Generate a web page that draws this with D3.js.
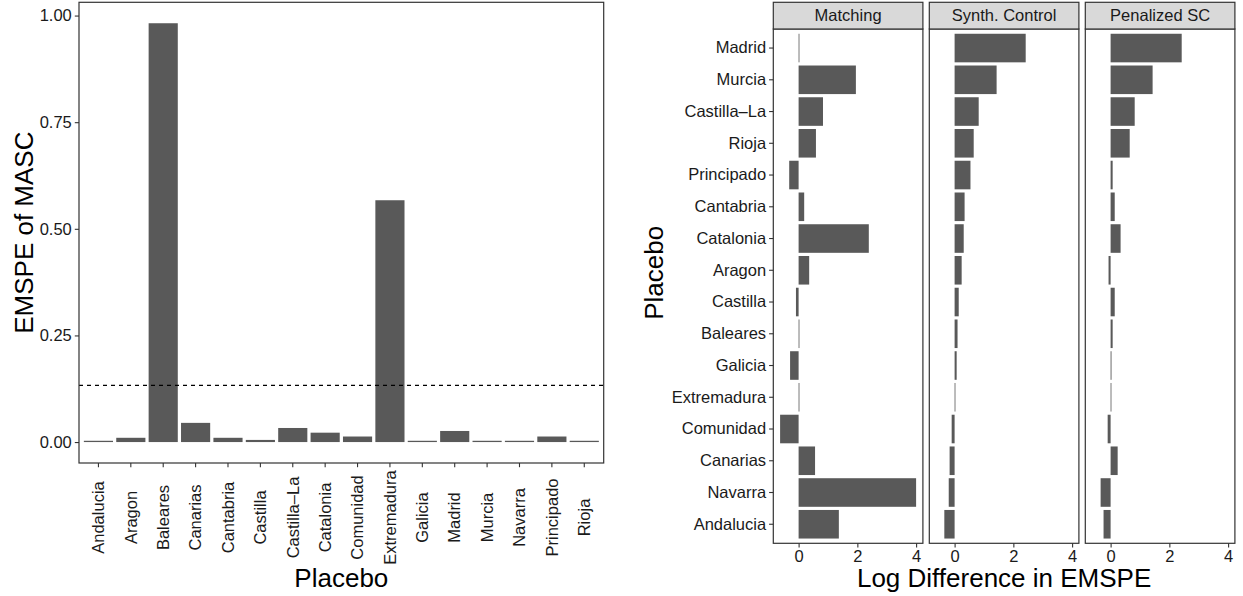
<!DOCTYPE html>
<html>
<head>
<meta charset="utf-8">
<script src="https://cdn.jsdelivr.net/npm/d3@7"></script>
<style>
  html, body { margin: 0; padding: 0; background: #fff; }
  svg { display: block; font-family: "Liberation Sans", Arial, Helvetica, sans-serif; }
</style>
</head>
<body>
<svg id="chart" width="1243" height="596"></svg>
<script>
// Left panel: EMSPE of MASC per placebo region (alphabetical)
const placebos = ["Andalucia", "Aragon", "Baleares", "Canarias", "Cantabria", "Castilla",
  "Castilla\u2013La", "Catalonia", "Comunidad", "Extremadura", "Galicia", "Madrid",
  "Murcia", "Navarra", "Principado", "Rioja"];
const emspeMasc = [0.003, 0.010, 0.982, 0.045, 0.010, 0.005, 0.033, 0.022, 0.013, 0.567,
  0.003, 0.026, 0.003, 0.003, 0.013, 0.003];
const thresholdLine = 0.133;
const leftTicks = [0, 0.25, 0.5, 0.75, 1.0];

// Right panels: log difference in EMSPE, rows listed top to bottom
const rowOrder = ["Madrid", "Murcia", "Castilla\u2013La", "Rioja", "Principado", "Cantabria",
  "Catalonia", "Aragon", "Castilla", "Baleares", "Galicia", "Extremadura", "Comunidad",
  "Canarias", "Navarra", "Andalucia"];
const methods = ["Matching", "Synth. Control", "Penalized SC"];
const matchingDiff = [0.00, 1.95, 0.83, 0.59, -0.32, 0.19, 2.39, 0.36, -0.09, 0.00, -0.29, 0.00,
  -0.63, 0.56, 4.00, 1.37];
const synthDiff = [2.42, 1.43, 0.82, 0.65, 0.54, 0.34, 0.31, 0.24, 0.14, 0.10, 0.07, 0.01,
  -0.10, -0.17, -0.20, -0.35];
const penalizedDiff = [2.42, 1.43, 0.82, 0.65, 0.07, 0.14, 0.34, -0.07, 0.14, 0.07, 0.03, 0.01,
  -0.10, 0.24, -0.34, -0.24];
const rightTicks = [0, 2, 4];

const svg = d3.select("#chart");
const barFill = "#595959";
const frameColor = "#333333";
const tickColor = "#333333";
const textColor = "#1a1a1a";
const tickFont = 16.5;
const titleFont = 26;

// 5% continuous expansion of the data range, zero baseline included
function expandDomain(values) {
  const lo = Math.min(0, d3.min(values));
  const hi = Math.max(0, d3.max(values));
  const pad = (hi - lo) * 0.05;
  return [lo - pad, hi + pad];
}

// ---------- Left chart ----------
const L = { x0: 79, x1: 603.7, y0: 2.3, y1: 463 };
// band centres sit 0.6 steps inside the panel edges
const xL = d3.scaleBand().domain(placebos).range([L.x0, L.x1]).paddingInner(0.1).paddingOuter(0.15);
const yL = d3.scaleLinear().domain(expandDomain(emspeMasc)).range([L.y1, L.y0]);

const left = svg.append("g");
left.selectAll("rect.bar").data(placebos).join("rect")
  .attr("class", "bar")
  .attr("x", d => xL(d))
  .attr("width", xL.bandwidth())
  .attr("y", (d, i) => yL(emspeMasc[i]))
  .attr("height", (d, i) => yL(0) - yL(emspeMasc[i]))
  .attr("fill", barFill);

left.append("line")
  .attr("x1", L.x0).attr("x2", L.x1)
  .attr("y1", yL(thresholdLine)).attr("y2", yL(thresholdLine))
  .attr("stroke", "#000").attr("stroke-width", 1.1)
  .attr("stroke-dasharray", "4,4");

left.append("rect")
  .attr("x", L.x0).attr("y", L.y0)
  .attr("width", L.x1 - L.x0).attr("height", L.y1 - L.y0)
  .attr("fill", "none").attr("stroke", frameColor).attr("stroke-width", 1.2);

// y axis
const yAxisL = left.append("g").attr("transform", `translate(${L.x0},0)`)
  .call(d3.axisLeft(yL).tickValues(leftTicks).tickFormat(d3.format(".2f")).tickSize(4.2).tickPadding(3));
yAxisL.select(".domain").remove();
yAxisL.selectAll("line").attr("stroke", tickColor).attr("stroke-width", 1.1);
yAxisL.selectAll("text").attr("fill", textColor).attr("font-size", tickFont)
  .attr("font-family", "Liberation Sans, Arial, sans-serif");

// x axis with vertical, centred labels
const xAxisL = left.append("g").attr("transform", `translate(0,${L.y1})`)
  .call(d3.axisBottom(xL).tickSize(4.2));
xAxisL.select(".domain").remove();
xAxisL.selectAll("line").attr("stroke", tickColor).attr("stroke-width", 1.1);
xAxisL.selectAll("text")
  .attr("fill", textColor).attr("font-size", tickFont)
  .attr("font-family", "Liberation Sans, Arial, sans-serif")
  .attr("text-anchor", "middle")
  .attr("y", 0).attr("dy", "0.35em")
  .attr("transform", "translate(0,54.5) rotate(-90)");

left.append("text")
  .attr("x", (L.x0 + L.x1) / 2).attr("y", 587)
  .attr("text-anchor", "middle").attr("font-size", titleFont).attr("fill", "#000")
  .text("Placebo");
left.append("text")
  .attr("transform", `translate(33,${(L.y0 + L.y1) / 2}) rotate(-90)`)
  .attr("text-anchor", "middle").attr("font-size", titleFont).attr("fill", "#000")
  .text("EMSPE of MASC");

// ---------- Right facets ----------
const R = { stripTop: 2.3, top: 29, bottom: 543.3 };
const panelX = [773.3, 929.3, 1085.3];
const panelW = 149.6;
const methodValues = [matchingDiff, synthDiff, penalizedDiff];
const xDomainR = expandDomain(methodValues.flat());
const yR = d3.scaleBand().domain(rowOrder).range([R.top, R.bottom]).paddingInner(0.1).paddingOuter(0.15);

methods.forEach((m, k) => {
  const px = panelX[k];
  const xR = d3.scaleLinear().domain(xDomainR).range([px, px + panelW]);
  const g = svg.append("g");
  const vals = methodValues[k];

  g.selectAll("rect.bar").data(rowOrder).join("rect")
    .attr("class", "bar")
    .attr("y", d => yR(d))
    .attr("height", yR.bandwidth())
    .attr("x", (d, i) => Math.min(xR(0), xR(vals[i])))
    .attr("width", (d, i) => Math.max(0.8, Math.abs(xR(vals[i]) - xR(0))))
    .attr("fill", barFill);

  g.append("rect")
    .attr("x", px).attr("y", R.top)
    .attr("width", panelW).attr("height", R.bottom - R.top)
    .attr("fill", "none").attr("stroke", frameColor).attr("stroke-width", 1.2);

  // strip
  g.append("rect")
    .attr("x", px).attr("y", R.stripTop)
    .attr("width", panelW).attr("height", R.top - R.stripTop)
    .attr("fill", "#d9d9d9").attr("stroke", frameColor).attr("stroke-width", 1.2);
  g.append("text")
    .attr("x", px + panelW / 2).attr("y", (R.stripTop + R.top) / 2).attr("dy", "0.35em")
    .attr("text-anchor", "middle").attr("font-size", tickFont).attr("fill", textColor)
    .text(m);

  const xa = g.append("g").attr("transform", `translate(0,${R.bottom})`)
    .call(d3.axisBottom(xR).tickValues(rightTicks).tickFormat(d3.format("d")).tickSize(4.2).tickPadding(3));
  xa.select(".domain").remove();
  xa.selectAll("line").attr("stroke", tickColor).attr("stroke-width", 1.1);
  xa.selectAll("text").attr("fill", textColor).attr("font-size", tickFont)
    .attr("font-family", "Liberation Sans, Arial, sans-serif");

  if (k === 0) {
    const ya = g.append("g").attr("transform", `translate(${px},0)`)
      .call(d3.axisLeft(yR).tickSize(4.2).tickPadding(3));
    ya.select(".domain").remove();
    ya.selectAll("line").attr("stroke", tickColor).attr("stroke-width", 1.1);
    ya.selectAll("text").attr("fill", textColor).attr("font-size", tickFont)
      .attr("font-family", "Liberation Sans, Arial, sans-serif");
  }
});

svg.append("text")
  .attr("x", (panelX[0] + panelX[2] + panelW) / 2).attr("y", 587)
  .attr("text-anchor", "middle").attr("font-size", titleFont).attr("fill", "#000")
  .text("Log Difference in EMSPE");
svg.append("text")
  .attr("transform", `translate(663,${(R.stripTop + R.bottom) / 2}) rotate(-90)`)
  .attr("text-anchor", "middle").attr("font-size", titleFont).attr("fill", "#000")
  .text("Placebo");
</script>
</body>
</html>
